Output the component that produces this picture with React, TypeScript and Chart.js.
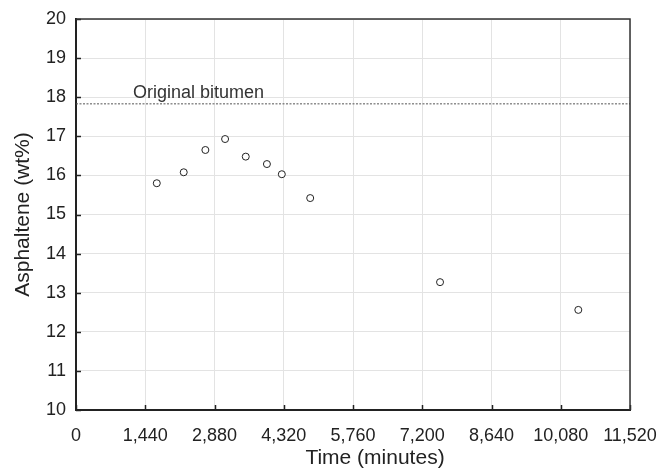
import React, { useEffect, useRef } from "react";
import { Chart, registerables } from "chart.js";
Chart.register(...registerables);

const timeMinutes = [1680, 2240, 2690, 3100, 3530, 3970, 4280, 4870, 7570, 10445];
const asphaltene = [15.8, 16.08, 16.65, 16.93, 16.48, 16.29, 16.03, 15.42, 13.27, 12.56];
const originalBitumen = 17.83;
const originalLabel = "Original bitumen";
const originalLabelX = 1185;
const xTitle = "Time (minutes)";
const yTitle = "Asphaltene (wt%)";
const xMin = 0;
const xMax = 11520;
const xStep = 1440;
const yMin = 10;
const yMax = 20;
const yStep = 1;

const FONT = "'Liberation Sans', Arial, Helvetica, sans-serif";

const framePlugin = {
  id: "frame",
  afterDatasetsDraw(chart: any) {
    const { ctx, chartArea, scales } = chart;
    const xs = scales.x;
    const ys = scales.y;
    ctx.save();
    // inward tick marks
    ctx.strokeStyle = "#222";
    ctx.lineWidth = 1.5;
    xs.ticks.forEach((t: any) => {
      const px = Math.round(xs.getPixelForValue(t.value)) + 0.5;
      ctx.beginPath();
      ctx.moveTo(px, chartArea.bottom);
      ctx.lineTo(px, chartArea.bottom - 5);
      ctx.stroke();
    });
    ys.ticks.forEach((t: any) => {
      const py = Math.round(ys.getPixelForValue(t.value)) + 0.5;
      ctx.beginPath();
      ctx.moveTo(chartArea.left, py);
      ctx.lineTo(chartArea.left + 5, py);
      ctx.stroke();
    });
    // top and right border
    ctx.strokeStyle = "#333";
    ctx.lineWidth = 1.5;
    ctx.beginPath();
    ctx.moveTo(chartArea.left, chartArea.top);
    ctx.lineTo(chartArea.right, chartArea.top);
    ctx.lineTo(chartArea.right, chartArea.bottom);
    ctx.stroke();
    // label for reference line
    ctx.fillStyle = "#333";
    ctx.font = `18px ${FONT}`;
    ctx.textAlign = "left";
    ctx.textBaseline = "alphabetic";
    ctx.fillText(
      originalLabel,
      xs.getPixelForValue(originalLabelX),
      ys.getPixelForValue(originalBitumen) - 6
    );
    // x axis title
    ctx.fillStyle = "#222";
    ctx.font = `21px ${FONT}`;
    ctx.textAlign = "center";
    ctx.textBaseline = "middle";
    ctx.fillText(xTitle, (chartArea.left + chartArea.right) / 2 + 22, chartArea.bottom + 48);
    ctx.restore();
  },
};

export default function App() {
  const ref = useRef<HTMLCanvasElement>(null);
  useEffect(() => {
    if (!ref.current) return;
    const chart = new Chart(ref.current, {
      type: "scatter",
      data: {
        datasets: [
          {
            type: "line",
            data: [
              { x: xMin, y: originalBitumen },
              { x: xMax, y: originalBitumen },
            ],
            borderColor: "#555",
            borderWidth: 1,
            borderDash: [2, 1.5],
            pointRadius: 0,
            fill: false,
          } as any,
          {
            type: "scatter",
            data: timeMinutes.map((t, i) => ({ x: t, y: asphaltene[i] })),
            pointStyle: "circle",
            pointRadius: 3.5,
            borderColor: "#222",
            borderWidth: 1,
            backgroundColor: "#fff",
          },
        ],
      },
      options: {
        responsive: false,
        animation: false,
        layout: { padding: { left: 0, right: 33, top: 19, bottom: 0 } },
        plugins: { legend: { display: false }, tooltip: { enabled: false } },
        scales: {
          x: {
            type: "linear",
            min: xMin,
            max: xMax,
            afterFit: (s: any) => {
              s.height = 65;
              s.paddingLeft = 0;
              s.paddingRight = 0;
            },
            ticks: {
              stepSize: xStep,
              padding: 15,
              color: "#222",
              font: { family: FONT, size: 18 },
              maxRotation: 0,
              autoSkip: false,
              callback: (v: any) => Number(v).toLocaleString("en-US"),
            },
            grid: { color: "#e3e3e3", lineWidth: 1, drawTicks: false },
            border: { color: "#222", width: 2 },
          },
          y: {
            type: "linear",
            min: yMin,
            max: yMax,
            afterFit: (s: any) => {
              s.width = 76;
              s.paddingTop = 0;
              s.paddingBottom = 0;
            },
            ticks: {
              stepSize: yStep,
              padding: 10,
              color: "#222",
              font: { family: FONT, size: 18 },
            },
            grid: { color: "#e3e3e3", lineWidth: 1, drawTicks: false },
            border: { color: "#222", width: 2 },
            title: {
              display: true,
              text: yTitle,
              color: "#222",
              font: { family: FONT, size: 21 },
              padding: { top: 11, bottom: 0 },
            },
          },
        },
      },
      plugins: [framePlugin],
    });
    return () => chart.destroy();
  }, []);
  return (
    <div style={{ position: "absolute", left: 0, top: 0, width: 663, height: 475, background: "#fff" }}>
      <canvas ref={ref} width={663} height={475} />
    </div>
  );
}
